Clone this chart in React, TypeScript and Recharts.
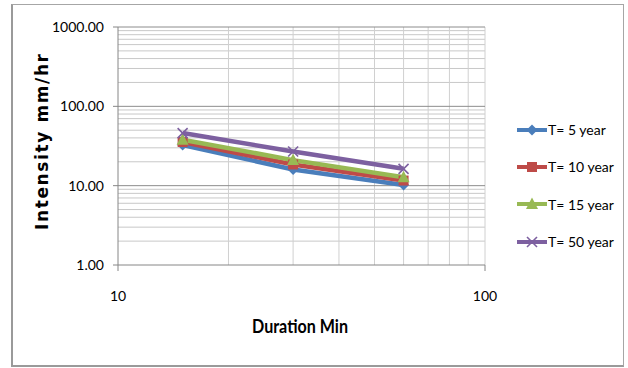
import { Line, LineChart, ReferenceLine, XAxis, YAxis } from "recharts";

// Duration (min) vs intensity (mm/hr) for each return period
const durations = [15, 30, 60];
const t5Year = [32.5, 16, 10.2];
const t10Year = [35.5, 18.5, 11.6];
const t15Year = [38, 21, 12.8];
const t50Year = [46, 27, 16.3];

const xTicks = [10, 100];
const yTicks = [1, 10, 100, 1000];
const xMinorGrid = [20, 30, 40, 50, 60, 70, 80, 90, 100];
const yMinorGrid = [
  2, 3, 4, 5, 6, 7, 8, 9, 20, 30, 40, 50, 60, 70, 80, 90, 200, 300, 400, 500, 600, 700, 800, 900,
];

const seriesNames = ["T= 5 year", "T= 10 year", "T= 15 year", "T= 50 year"];
const seriesKeys = ["t5", "t10", "t15", "t50"];
const seriesColors = ["#4A7EBB", "#BE4B48", "#98B954", "#7D60A0"];
const seriesShapes = ["diamond", "square", "triangle", "cross"];

const data = durations.map((d, i) => ({
  duration: d,
  t5: t5Year[i],
  t10: t10Year[i],
  t15: t15Year[i],
  t50: t50Year[i],
}));

const FONT = "Lato, 'Liberation Sans', sans-serif";

const Marker = ({ cx, cy, shape, color }: { cx: number; cy: number; shape: string; color: string }) => {
  if (shape === "diamond")
    return <polygon points={`${cx},${cy - 5.5} ${cx + 5.5},${cy} ${cx},${cy + 5.5} ${cx - 5.5},${cy}`} fill={color} />;
  if (shape === "square") return <rect x={cx - 5} y={cy - 5} width={10} height={10} fill={color} />;
  if (shape === "triangle")
    return <polygon points={`${cx},${cy - 6.5} ${cx + 6},${cy + 5} ${cx - 6},${cy + 5}`} fill={color} />;
  return (
    <g stroke={color} strokeWidth={1.6}>
      <line x1={cx - 5} y1={cy - 5} x2={cx + 5} y2={cy + 5} />
      <line x1={cx - 5} y1={cy + 5} x2={cx + 5} y2={cy - 5} />
    </g>
  );
};

const makeDot = (shape: string, color: string) => (props: any) => {
  const { cx, cy, index } = props;
  if (cx == null || cy == null) return <g key={index} />;
  return <Marker key={index} cx={cx} cy={cy} shape={shape} color={color} />;
};

const ChartLegend = () => (
  <div style={{ position: "absolute", left: 516, top: 111, width: 110 }}>
    {seriesNames.map((name, i) => (
      <div key={name} style={{ height: 37.3, display: "flex", alignItems: "center" }}>
        <svg width={32} height={16} style={{ display: "block" }}>
          <line x1={1} y1={8} x2={31} y2={8} stroke={seriesColors[i]} strokeWidth={4} />
          <Marker cx={16} cy={8} shape={seriesShapes[i]} color={seriesColors[i]} />
        </svg>
        <span style={{ fontFamily: FONT, fontSize: 14, color: "#000" }}>{name}</span>
      </div>
    ))}
  </div>
);

const XTick = ({ x, payload }: any) => (
  <text x={x} y={301} textAnchor="middle" fontFamily={FONT} fontSize={14} fill="#000">
    {payload.value}
  </text>
);

const YTick = ({ y, payload }: any) => (
  <text x={104} y={y + 5} textAnchor="end" fontFamily={FONT} fontSize={14} fill="#000">
    {Number(payload.value).toFixed(2)}
  </text>
);

export default function App() {
  return (
    <div style={{ position: "absolute", left: 0, top: 0, width: 628, height: 368, background: "#fff" }}>
      <div
        style={{
          position: "absolute",
          left: 11,
          top: 4,
          width: 613,
          height: 363,
          borderTop: "1px solid #a6a6a6",
          borderRight: "1px solid #a6a6a6",
          borderLeft: "2px solid #9a9a9a",
          borderBottom: "2px solid #9a9a9a",
          boxSizing: "border-box",
        }}
      />
      <div style={{ position: "absolute", left: 0, top: 0 }}>
        <LineChart width={628} height={368} data={data} margin={{ top: 27, right: 143, bottom: 43, left: 0 }}>
          {yMinorGrid.map((v) => (
            <ReferenceLine key={`y${v}`} y={v} stroke="#c8c8c8" strokeWidth={1} />
          ))}
          {xMinorGrid.map((v) => (
            <ReferenceLine key={`x${v}`} x={v} stroke="#d0d0d0" strokeWidth={1} />
          ))}
          {yTicks.slice(1).map((v) => (
            <ReferenceLine key={`ym${v}`} y={v} stroke="#8c8c8c" strokeWidth={1} />
          ))}
          <XAxis
            dataKey="duration"
            type="number"
            scale="log"
            domain={[10, 100]}
            ticks={xTicks}
            height={60}
            stroke="#868686"
            tickSize={6}
            tick={<XTick />}
            allowDataOverflow
            label={{
              content: () => (
                <text
                  x={300}
                  y={333}
                  textAnchor="middle"
                  fontFamily={FONT}
                  fontWeight="bold"
                  fontSize={19.5}
                  textLength={96}
                  lengthAdjust="spacingAndGlyphs"
                  fill="#000"
                >
                  Duration Min
                </text>
              ),
            }}
          />
          <YAxis
            type="number"
            scale="log"
            domain={[1, 1000]}
            ticks={yTicks}
            width={118}
            stroke="#868686"
            tickSize={5}
            tick={<YTick />}
            allowDataOverflow
            label={{
              content: () => (
                <text
                  x={42}
                  y={142}
                  transform="rotate(-90, 42, 142)"
                  textAnchor="middle"
                  dominantBaseline="central"
                  fontFamily="'DejaVu Sans', sans-serif"
                  fontWeight="bold"
                  fontSize={17}
                  textLength={176}
                  lengthAdjust="spacing"
                  fill="#000"
                >
                  Intensity mm/hr
                </text>
              ),
            }}
          />
          {seriesKeys.map((k, i) => (
            <Line
              key={k}
              dataKey={k}
              name={seriesNames[i]}
              stroke={seriesColors[i]}
              strokeWidth={4.5}
              dot={makeDot(seriesShapes[i], seriesColors[i])}
              activeDot={false}
              isAnimationActive={false}
            />
          ))}
        </LineChart>
      </div>
      <ChartLegend />
    </div>
  );
}
